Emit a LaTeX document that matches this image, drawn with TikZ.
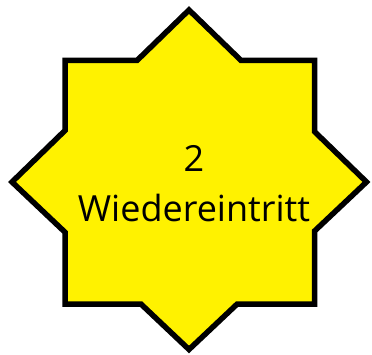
\documentclass[tikz,border=0pt]{standalone}
\usepackage{fontspec}
\setmainfont{Open Sans}
\tikzset{
  starshape/.style={draw=black, fill=yellow, line width=5.5pt, line join=miter},
  lbl/.style={anchor=base, inner sep=0pt, font=\fontsize{36}{40}\selectfont}
}
\begin{document}
\begin{tikzpicture}[x=1pt,y=-1pt]
\useasboundingbox (0,0) rectangle (372,355);
\draw[starshape] (189,10) -- (241.1,60.5) -- (314.5,60.5) -- (314.5,131.6) -- (366.5,182)
  -- (314.5,231.1) -- (314.5,304) -- (237.2,304) -- (189,349.5) -- (140.9,304)
  -- (65,304) -- (65,232.2) -- (12,182) -- (65,130.5) -- (65,60.5) -- (137,60.5) -- cycle;
\node[lbl] (num) at (194,171.7) {2};
\node[lbl] (word) at (194,221.7) {Wiedereintritt};
\end{tikzpicture}
\end{document}
